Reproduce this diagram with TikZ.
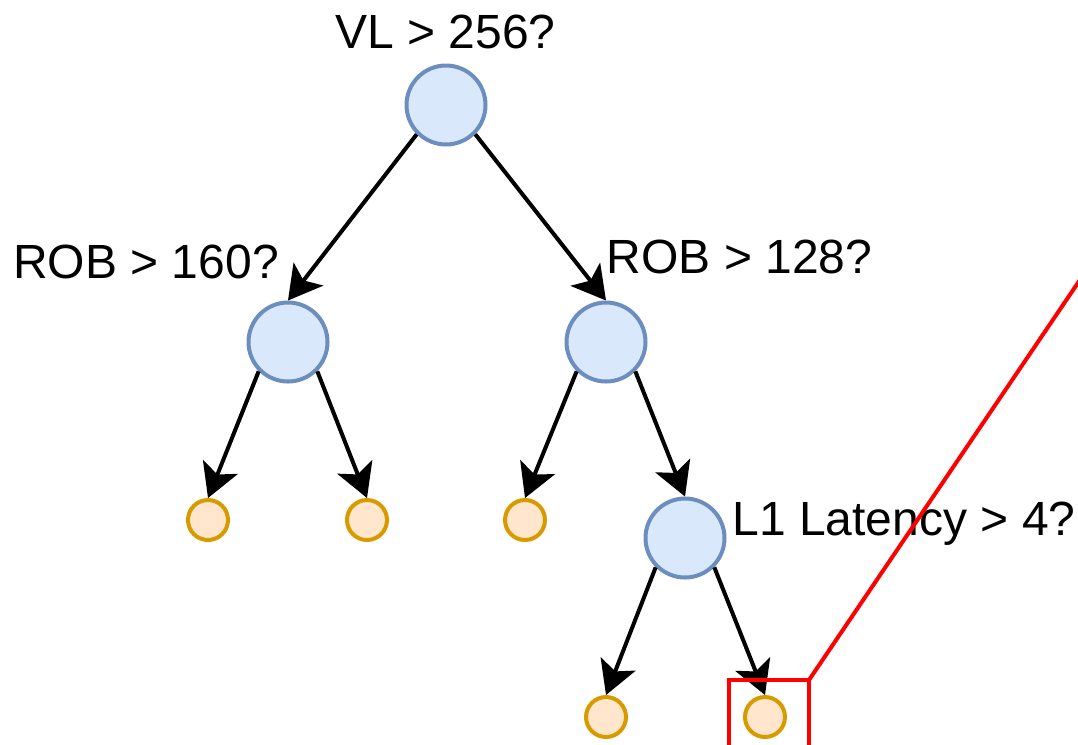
\documentclass[tikz,border=0pt]{standalone}
\usepackage{fontspec}
\setmainfont{Liberation Sans}
\usetikzlibrary{arrows.meta}
\definecolor{qfill}{HTML}{DAE8FC}
\definecolor{qdraw}{HTML}{6C8EBF}
\definecolor{lfill}{HTML}{FFE6CC}
\definecolor{ldraw}{HTML}{D79B00}
\begin{document}
\begin{tikzpicture}[x=0.75pt,y=-0.75pt,
  test/.style={circle,draw=qdraw,fill=qfill,line width=3pt,minimum size=59.25pt,inner sep=0pt},
  leaf/.style={circle,draw=ldraw,fill=lfill,line width=3pt,minimum size=30pt,inner sep=0pt},
  lbl/.style={anchor=base,inner sep=0pt,font=\fontsize{36}{43}\selectfont},
  arr/.style={line width=3pt,-{Stealth[length=25pt,width=28pt,inset=6pt]}},
  hl/.style={draw=red,line width=3pt}]
\clip (0,0) rectangle (1078,744);
\useasboundingbox (0,0) rectangle (1078,744);

% decision nodes
\node[test] (root) at (446,105) {};
\node[test] (lm) at (288,342) {};
\node[test] (rm) at (606,342) {};
\node[test] (lat) at (685,538) {};

% leaves
\node[leaf] (a) at (208,520) {};
\node[leaf] (b) at (367,520) {};
\node[leaf] (c) at (525,520) {};
\node[leaf] (d) at (606,717) {};
\node[leaf] (e) at (765,717) {};

% split conditions
\node[lbl] (t0) at (445.5,48) {VL > 256?};
\node[lbl] (t1) at (146,278) {ROB > 160?};
\node[lbl] (t2) at (739.5,273) {ROB > 128?};
\node[lbl] (t3) at (904,535) {L1 Latency > 4?};

% branches
\draw[arr] (root.225) -- (lm.north);
\draw[arr] (root.315) -- (rm.north);
\draw[arr] (lm.225) -- (a.north);
\draw[arr] (lm.315) -- (b.north);
\draw[arr] (rm.225) -- (c.north);
\draw[arr] (rm.315) -- (lat.north);
\draw[arr] (lat.225) -- (d.north);
\draw[arr] (lat.315) -- (e.north);

% highlighted leaf with callout line
\coordinate (hbl) at (729,760);
\coordinate (htr) at (809,680);
\coordinate (hout) at (1088,268);
\draw[hl] (hbl) |- (htr) -- (hbl -| htr);
\draw[hl] (htr) -- (hout);
\end{tikzpicture}
\end{document}
